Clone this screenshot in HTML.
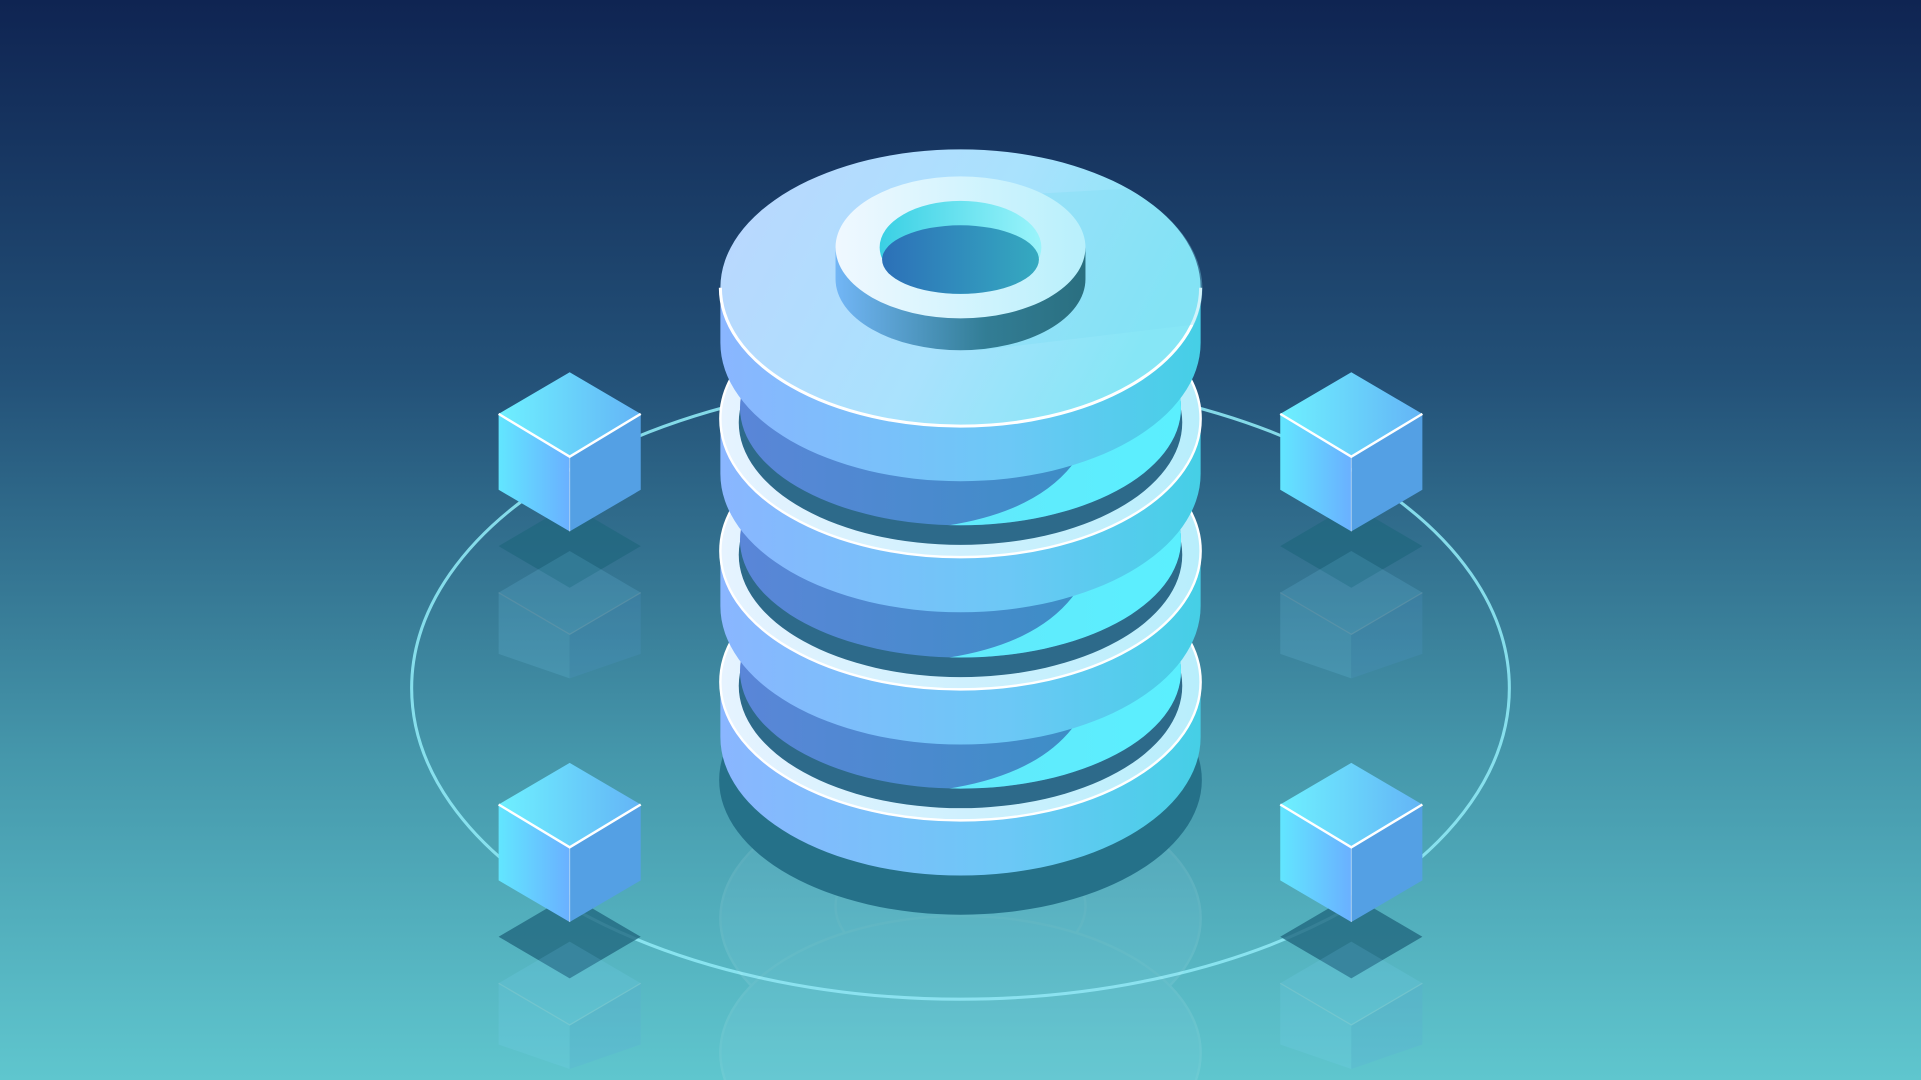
<!DOCTYPE html>
<html><head><meta charset="utf-8"><style>html,body{margin:0;padding:0;overflow:hidden;background:#10254f;width:1921px;height:1080px}svg{display:block;position:absolute;left:0;top:0}</style></head>
<body>
<svg width="1921" height="1080" viewBox="0 0 1568 882" preserveAspectRatio="none" xmlns="http://www.w3.org/2000/svg">
<defs>
<linearGradient id="bg" x1="0" y1="0" x2="0" y2="1"><stop offset="0" stop-color="#0f2452"/><stop offset="0.35" stop-color="#235178"/><stop offset="0.7" stop-color="#4597ab"/><stop offset="1" stop-color="#5fc6ce"/></linearGradient>
<linearGradient id="side" x1="0" y1="0" x2="1" y2="0"><stop offset="0" stop-color="#8ab6ff"/><stop offset="0.6" stop-color="#6cc8f6"/><stop offset="1" stop-color="#45cfe6"/></linearGradient>
<linearGradient id="blue" x1="0" y1="0" x2="1" y2="0"><stop offset="0" stop-color="#5a86d8"/><stop offset="1" stop-color="#3490c0"/></linearGradient>
<linearGradient id="cyan" x1="0" y1="0" x2="1" y2="0"><stop offset="0" stop-color="#62e8fb"/><stop offset="1" stop-color="#5af0ff"/></linearGradient>
<linearGradient id="rim" x1="0" y1="0" x2="1" y2="0"><stop offset="0" stop-color="#e6f3ff"/><stop offset="1" stop-color="#b8eefc"/></linearGradient>
<linearGradient id="top" x1="0" y1="0" x2="1" y2="0.3"><stop offset="0" stop-color="#bcd6ff"/><stop offset="0.6" stop-color="#a9e2fd"/><stop offset="1" stop-color="#86e6f6"/></linearGradient>
<linearGradient id="ring" x1="0" y1="0" x2="1" y2="0"><stop offset="0" stop-color="#f0f8ff"/><stop offset="1" stop-color="#b8f0fc"/></linearGradient>
<linearGradient id="ringside" x1="0" y1="0" x2="1" y2="0"><stop offset="0" stop-color="#72b6f6"/><stop offset="0.6" stop-color="#327d95"/><stop offset="1" stop-color="#2a6f80"/></linearGradient>
<linearGradient id="hole" x1="0" y1="0" x2="1" y2="0"><stop offset="0" stop-color="#2c70b8"/><stop offset="1" stop-color="#35aac0"/></linearGradient>
<linearGradient id="holetop" x1="0" y1="0" x2="1" y2="0"><stop offset="0" stop-color="#3ad0e4"/><stop offset="1" stop-color="#9af4fb"/></linearGradient>
<linearGradient id="cl" x1="0" y1="0" x2="1" y2="0"><stop offset="0" stop-color="#62e6ff"/><stop offset="1" stop-color="#6ab0ff"/></linearGradient>
<linearGradient id="ct" x1="0" y1="0" x2="1" y2="0"><stop offset="0" stop-color="#6ef0ff"/><stop offset="1" stop-color="#64b4f6"/></linearGradient>
<clipPath id="ic"><ellipse cx="784" cy="-9" rx="180" ry="96"/></clipPath>
<g id="layer">
<path d="M588,0 L588,45 A196,113 0 0 0 980,45 L980,0 Z" fill="url(#side)"/>
<ellipse cx="784" cy="0" rx="196" ry="113" fill="url(#rim)" stroke="#fff" stroke-width="2"/>
<ellipse cx="784" cy="3" rx="181" ry="100" fill="#2d6a8a"/>
<ellipse cx="784" cy="-9" rx="180" ry="96" fill="url(#blue)"/>
<path clip-path="url(#ic)" d="M750,90 Q840,82 875,38 L990,-120 L990,120 Z" fill="url(#cyan)"/>
</g>
<g id="cube">
<polygon points="0,0 58,34 0,69 -58,34" fill="url(#ct)"/>
<polygon points="-58,34 0,69 0,130 -58,96" fill="url(#cl)"/>
<polygon points="0,69 58,34 58,96 0,130" fill="#54a0e4"/>
<polyline points="-58,34 0,69 58,34" fill="none" stroke="#fff" stroke-width="2"/>
<line x1="0" y1="69" x2="0" y2="130" stroke="#fff" stroke-width="0.8" opacity="0.5"/>
</g>
<g id="cshadow">
<polygon points="-58,142 0,108 58,142 0,176" fill="#22687f" opacity="0.8"/>
<g opacity="0.15"><polygon points="-58,180 0,146 58,180 0,214" fill="#7fd8ff"/><polygon points="-58,180 0,214 0,250 -58,230" fill="#7fd8ff"/><polygon points="0,214 58,180 58,230 0,250" fill="#5aa0e0"/><polyline points="-58,180 0,214 58,180" fill="none" stroke="#fff"/></g>
</g>
</defs>
<rect width="1568" height="882" fill="url(#bg)"/>
<ellipse cx="784" cy="562" rx="448" ry="254" fill="none" stroke="#8ee8f4" stroke-width="2.5" opacity="0.9"/>
<g opacity="0.1" fill="#a8e0f8" stroke="#e0f8ff" stroke-width="2">
<ellipse cx="784" cy="750" rx="196" ry="112"/>
<ellipse cx="784" cy="740" rx="102" ry="58"/>
<ellipse cx="784" cy="860" rx="196" ry="112"/>
</g>
<ellipse cx="784" cy="637" rx="197" ry="110" fill="#257189"/>
<use href="#layer" y="557"/>
<use href="#layer" y="450"/>
<use href="#layer" y="342"/>
<path d="M588,235 L588,280 A196,113 0 0 0 980,280 L980,235 Z" fill="url(#side)"/>
<ellipse cx="784" cy="235" rx="196" ry="113" fill="url(#top)"/>
<path d="M588,235 A196,113 0 0 0 980,235" fill="none" stroke="#fff" stroke-width="2.5"/>
<path d="M850,158 L920,154 A196,113 0 0 1 975,265 L800,286 Z" fill="#7fdcf4" opacity="0.35"/>
<path d="M682,202 L682,228 A102,58 0 0 0 886,228 L886,202 Z" fill="url(#ringside)"/>
<ellipse cx="784" cy="202" rx="102" ry="58" fill="url(#ring)"/>
<ellipse cx="784" cy="202" rx="66" ry="38" fill="url(#holetop)"/>
<ellipse cx="784" cy="212" rx="64" ry="28" fill="url(#hole)"/>
<use href="#cshadow" x="465" y="304"/><use href="#cube" x="465" y="304"/>
<use href="#cshadow" x="1103" y="304"/><use href="#cube" x="1103" y="304"/>
<use href="#cshadow" x="465" y="623"/><use href="#cube" x="465" y="623"/>
<use href="#cshadow" x="1103" y="623"/><use href="#cube" x="1103" y="623"/>
</svg>
</body></html>
